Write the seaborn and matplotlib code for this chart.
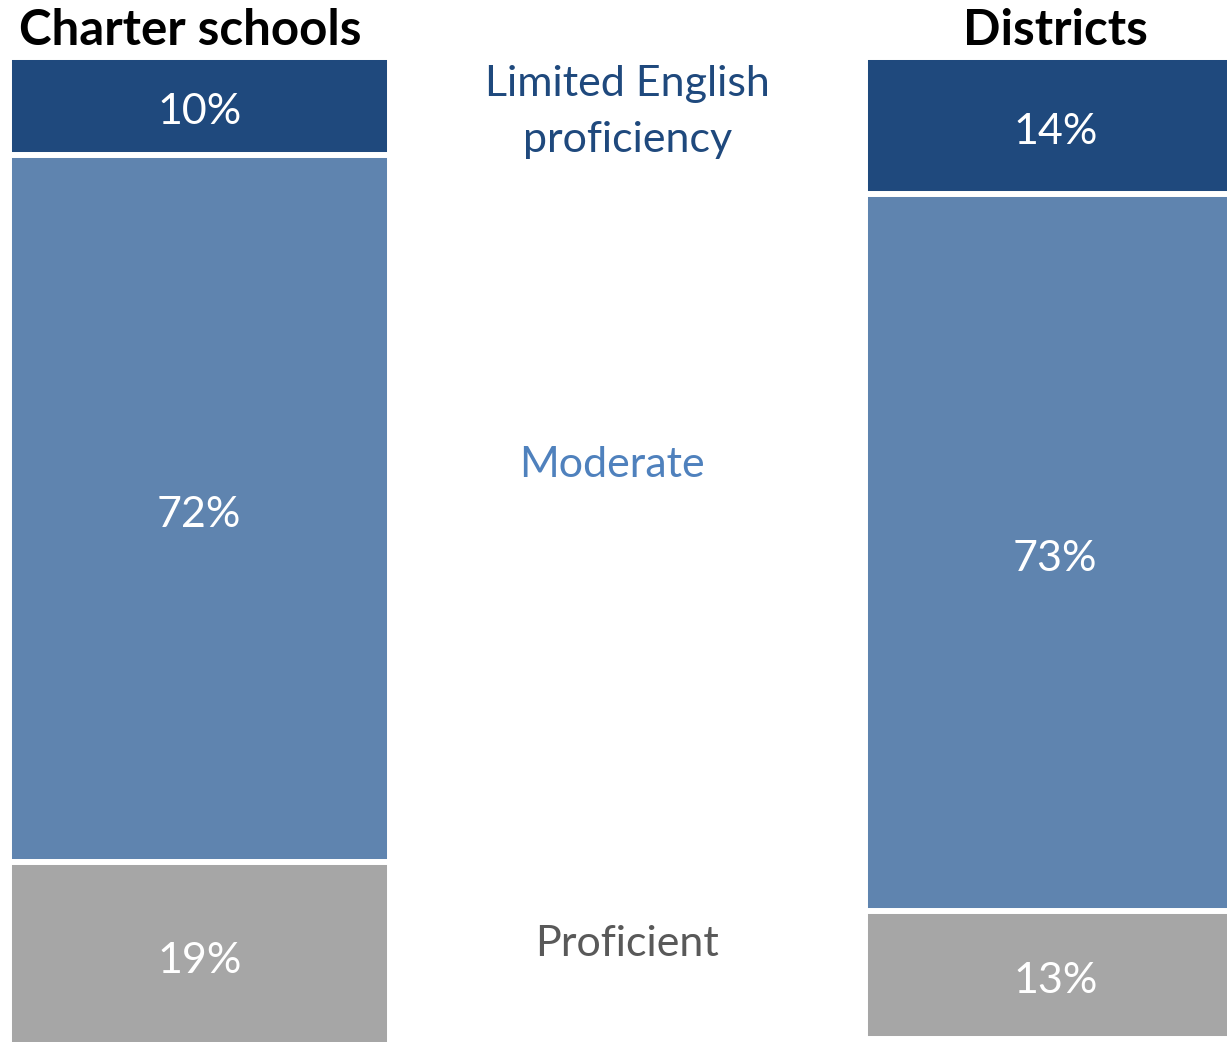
import numpy as np
import matplotlib
matplotlib.use("Agg")
import matplotlib.pyplot as plt
import seaborn as sns

# data (percent of students, stacked from the top)
groups = ["Charter schools", "Districts"]
lep = [10, 14]
moderate = [72, 73]
proficient = [19, 13]

c_lep = "#1f497d"
c_mod = "#5f84af"
c_prof = "#a6a6a6"

sns.set_style("white")
plt.rcParams["font.family"] = ["Lato", "DejaVu Sans"]

fig = plt.figure(figsize=(12.27, 10.42), dpi=100)
ax = fig.add_axes([0, 0, 1, 1 - 57 / 1042])

lep_a = np.array(lep)
mod_a = np.array(moderate)
prof_a = np.array(proficient)
total = lep_a + mod_a + prof_a
upper = lep_a + mod_a

# overlay cumulative bars, largest first
for vals, col in [(total, c_prof), (upper, c_mod), (lep_a, c_lep)]:
    sns.barplot(x=groups, y=vals, color=col, saturation=1, width=0.445,
                edgecolor="white", linewidth=4.3, ax=ax)

ax.set_xlim(-0.2328, 1.2006)
ax.set_ylim(100.3, 0)
ax.axis("off")

# value labels in the middle of each segment
for i in range(len(groups)):
    segs = [(0, lep[i]), (lep[i], upper[i]), (upper[i], total[i])]
    for (a, b), v in zip(segs, [lep[i], moderate[i], proficient[i]]):
        ax.text(i, (a + b) / 2 + 0.6, f"{v}%", ha="center", va="center",
                color="white", fontsize=31)
    ax.text(i - (0.011 if i == 0 else 0), -2.65, groups[i], ha="center",
            va="center", fontsize=35.5, fontweight="bold", color="black",
            clip_on=False)

# category labels between the bars
ax.text(0.5, 5.6, "Limited English\nproficiency", ha="center", va="center",
        fontsize=31, color=c_lep, linespacing=1.55)
ax.text(0.482, 41.5, "Moderate", ha="center", va="center", fontsize=31,
        color="#4f81bd")
ax.text(0.5, 90.3, "Proficient", ha="center", va="center", fontsize=31,
        color="#595959")

fig.savefig("out.png", dpi=100)
